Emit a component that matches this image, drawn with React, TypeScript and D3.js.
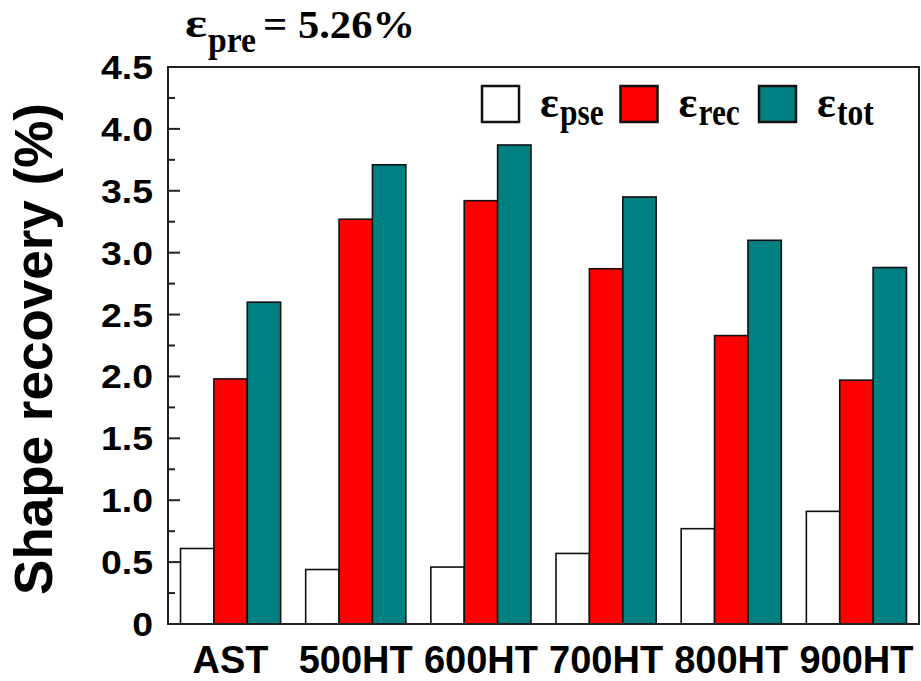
import React from "react";
import * as d3 from "d3";

const categories = ["AST", "500HT", "600HT", "700HT", "800HT", "900HT"];
const seriesKeys = ["pse", "rec", "tot"];
const seriesColors = ["#ffffff", "#ff0000", "#008080"];
const pseValues = [0.61, 0.44, 0.46, 0.57, 0.77, 0.91];
const recValues = [1.98, 3.27, 3.42, 2.87, 2.33, 1.97];
const totValues = [2.6, 3.71, 3.87, 3.45, 3.1, 2.88];
const yTicks = [0, 0.5, 1.0, 1.5, 2.0, 2.5, 3.0, 3.5, 4.0, 4.5];
const yTickLabels = ["0", "0.5", "1.0", "1.5", "2.0", "2.5", "3.0", "3.5", "4.0", "4.5"];
const yMinorTicks = [0.25, 0.75, 1.25, 1.75, 2.25, 2.75, 3.25, 3.75, 4.25];
const yTitle = "Shape recovery (%)";
const titleSub = "pre";
const titleValue = "= 5.26%";

const W = 921;
const H = 681;
const L = 168, R = 919, T = 67, B = 624;

const SANS = "'Liberation Sans', Arial, sans-serif";
const SERIF = "'Liberation Serif', 'Times New Roman', serif";

export default function App() {
  const x = d3.scaleBand<string>().domain(categories).range([L, R]).paddingInner(0.2).paddingOuter(0.1);
  const xs = d3.scaleBand<string>().domain(seriesKeys).range([0, x.bandwidth()]);
  const y = d3.scaleLinear().domain([0, 4.5]).range([B, T]);
  const allSeries = [pseValues, recValues, totValues];

  const legendX = d3.scaleLinear().domain([0, 2]).range([482, 759]);

  return (
    <svg width={W} height={H} style={{ position: "fixed", left: 0, top: 0, background: "#fff" }}>
      <rect x={0} y={0} width={W} height={H} fill="#fff" />
      {/* bars */}
      {categories.map((c, ci) =>
        seriesKeys.map((k, si) => {
          const v = allSeries[si][ci];
          return (
            <rect
              key={c + k}
              x={(x(c) as number) + (xs(k) as number)}
              y={y(v)}
              width={xs.bandwidth()}
              height={B - y(v)}
              fill={seriesColors[si]}
              stroke="#111"
              strokeWidth={1.6}
            />
          );
        })
      )}
      {/* frame */}
      <rect x={L} y={T} width={R - L} height={B - T} fill="none" stroke="#222" strokeWidth={2} />
      {/* ticks */}
      {yTicks.map((t) => (
        <line key={"M" + t} x1={L} x2={L + 12} y1={y(t)} y2={y(t)} stroke="#222" strokeWidth={2} />
      ))}
      {yMinorTicks.map((t) => (
        <line key={"m" + t} x1={L} x2={L + 7} y1={y(t)} y2={y(t)} stroke="#222" strokeWidth={2} />
      ))}
      {yTicks.map((t, i) => (
        <text
          key={"l" + t}
          transform={`translate(153,${y(t) + 12}) scale(1.1,1)`}
          textAnchor="end"
          fontFamily={SANS}
          fontWeight="bold"
          fontSize={34}
          fill="#000"
        >
          {yTickLabels[i]}
        </text>
      ))}
      {/* x labels */}
      {categories.map((c) => (
        <text
          key={"x" + c}
          x={(x(c) as number) + x.bandwidth() / 2}
          y={673}
          textAnchor="middle"
          fontFamily={SANS}
          fontWeight="bold"
          fontSize={38}
          fill="#000"
        >
          {c}
        </text>
      ))}
      {/* y title */}
      <text
        transform={`translate(52,349) rotate(-90)`}
        textAnchor="middle"
        fontFamily={SANS}
        fontWeight="bold"
        fontSize={53}
        fill="#000"
      >
        {yTitle}
      </text>
      {/* top title */}
      <text x={185} y={37} fontFamily={SERIF} fontWeight="bold" fontSize={40} textLength={22} lengthAdjust="spacingAndGlyphs">ε</text>
      <text x={208} y={52} fontFamily={SERIF} fontWeight="bold" fontSize={36} textLength={48} lengthAdjust="spacingAndGlyphs">{titleSub}</text>
      <text x={263} y={38} fontFamily={SERIF} fontWeight="bold" fontSize={40} textLength={152} lengthAdjust="spacingAndGlyphs">{titleValue}</text>
      {/* legend */}
      {seriesKeys.map((k, i) => {
        const bx = legendX(i);
        return (
          <g key={"lg" + k}>
            <rect x={bx} y={86} width={37} height={36} fill={seriesColors[i]} stroke="#111" strokeWidth={2.5} />
            <text x={bx + 58} y={117} fontFamily={SERIF} fontWeight="bold" fontSize={44}>ε</text>
            <text transform={`translate(${bx + 78},125) scale(0.85,1)`} fontFamily={SERIF} fontWeight="bold" fontSize={37}>{k}</text>
          </g>
        );
      })}
    </svg>
  );
}
